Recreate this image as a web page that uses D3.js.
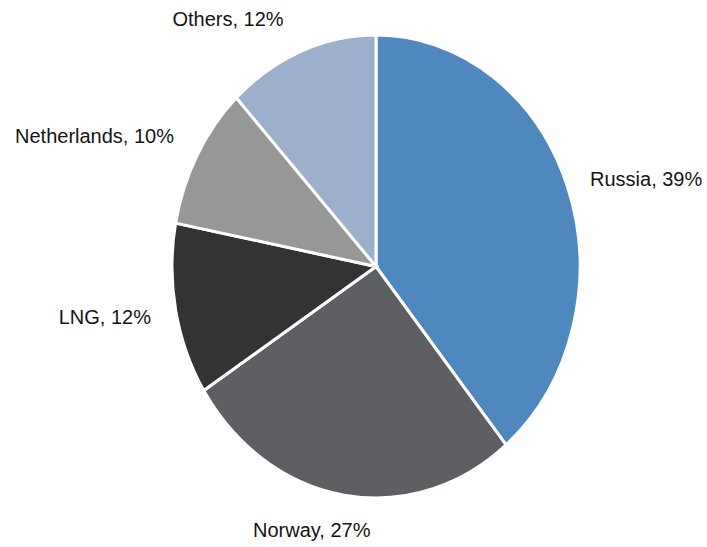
<!DOCTYPE html>
<meta charset="utf-8">
<title>Gas supply pie</title>
<style>
body {
    margin: 0;
    background: #fff;
}
svg {
    position: absolute;
    top: 0;
    left: 0;
}
.label {
    font-family: "Liberation Sans Narrow", "Arial Narrow", "Liberation Sans", sans-serif;
    font-size: 20px;
    fill: #141414;
}
</style>
<body>
<script src="https://d3js.org/d3.v7.min.js"></script>
<script>

var width = 707,
    height = 547;

// data, clockwise from 12 o'clock
var sources = ["Russia", "Norway", "LNG", "Netherlands", "Others"];
var shares = [39, 27, 12, 10, 12];
var colors = ["#4f88bf", "#5e5f63", "#333333", "#979797", "#9db0cb"];

// where each label sits (the original places them by hand)
var labelPos = [[590, 186, "start"], [253, 537, "start"], [151, 324, "end"], [174, 143, "end"], [228, 26, "middle"]];

// the pie is drawn squashed sideways, like the original
var cx = 376, cy = 266.5,
    ry = 231.5, rx = 204;

var svg = d3.select("body").append("svg")
    .attr("width", width)
    .attr("height", height);

var pie = d3.pie()
    .sort(null)
    .value(function(d) { return d; });

var arc = d3.arc()
    .innerRadius(0)
    .outerRadius(ry);

var g = svg.append("g")
    .attr("transform", "translate(" + cx + "," + cy + ") scale(" + (rx / ry) + ",1)");

g.selectAll("path")
    .data(pie(shares))
  .enter().append("path")
    .attr("d", arc)
    .attr("fill", function(d, i) { return colors[i]; })
    .attr("stroke", "#fff")
    .attr("stroke-width", 3)
    .attr("vector-effect", "non-scaling-stroke");

svg.selectAll("text.label")
    .data(sources)
  .enter().append("text")
    .attr("class", "label")
    .attr("x", function(d, i) { return labelPos[i][0]; })
    .attr("y", function(d, i) { return labelPos[i][1]; })
    .attr("text-anchor", function(d, i) { return labelPos[i][2]; })
    .text(function(d, i) { return d + ", " + shares[i] + "%"; });

</script>
